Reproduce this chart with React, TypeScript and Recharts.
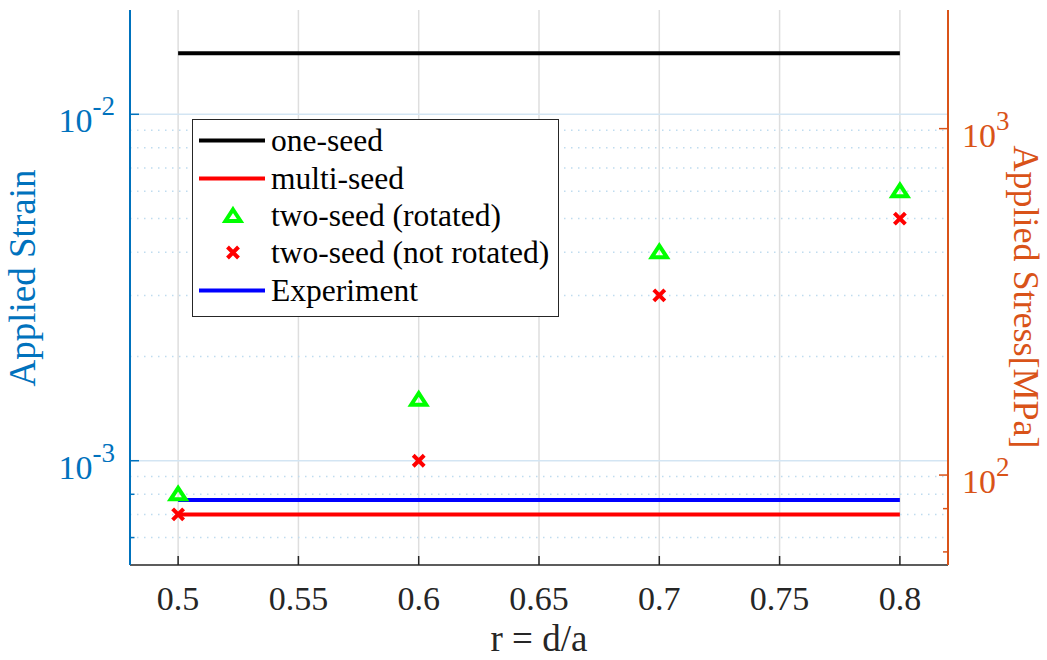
import React from 'react';
import {
  ComposedChart,
  Line,
  Scatter,
  XAxis,
  YAxis,
  CartesianGrid,
  ReferenceLine,
  Legend,
} from 'recharts';

// r = d/a positions of the two-seed runs
const rValues = [0.5, 0.6, 0.7, 0.8];
// span of the reference lines
const lineSpan = [0.5, 0.8];

const oneSeedStrain = 0.015;
const multiSeedStrain = 0.0007;
const experimentStrain = 0.00077;
const rotatedStrain = [0.0008, 0.0015, 0.004, 0.006];
const notRotatedStrain = [0.0007, 0.001, 0.003, 0.005];

const xTicks = [0.5, 0.55, 0.6, 0.65, 0.7, 0.75, 0.8];
const strainMajor = [0.001, 0.01];
const strainMinor = [0.0006, 0.0007, 0.0008, 0.0009, 0.002, 0.003, 0.004, 0.005, 0.006, 0.007, 0.008, 0.009];
const stressMajor = [100, 1000];
const stressMinor = [60, 70, 80, 90, 200, 300, 400, 500, 600, 700, 800, 900, 2000];

const legendOrder = ['one-seed', 'multi-seed', 'two-seed (rotated)', 'two-seed (not rotated)', 'Experiment'];

const FONT = "'Liberation Serif', 'Times New Roman', serif";
const BLUE = '#0072BD';
const ORANGE = '#D95319';
const DARK = '#262626';
const GREEN = '#00FF00';
const RED = '#FF0000';

const flat = (v: number) => lineSpan.map((r) => ({ r, strain: v }));
const pts = (vals: number[]) => rValues.map((r, i) => ({ r, strain: vals[i] }));

const Triangle = ({ cx, cy }: any) => (
  <path
    d={`M${cx},${cy - 6.5} L${cx + 7.5},${cy + 5} L${cx - 7.5},${cy + 5} Z`}
    fill="none"
    stroke={GREEN}
    strokeWidth={4}
  />
);

const Cross = ({ cx, cy }: any) => (
  <path
    d={`M${cx - 5.5},${cy - 5.5} L${cx + 5.5},${cy + 5.5} M${cx - 5.5},${cy + 5.5} L${cx + 5.5},${cy - 5.5}`}
    stroke={RED}
    strokeWidth={4}
  />
);

const pow10 = (v: number) => String(Math.round(Math.log10(v)));

const StrainTick = ({ x, y, payload }: any) => {
  const major = strainMajor.includes(payload.value);
  return (
    <g>
      <line x1={x} x2={x + (major ? 9 : 4.5)} y1={y} y2={y} stroke={BLUE} strokeWidth={1.5} />
      {major && (
        <text x={x - 15} y={y + 18} textAnchor="end" fill={BLUE} fontSize={34} fontFamily={FONT}>
          <tspan>10</tspan>
          <tspan dy={-17} fontSize={27}>{pow10(payload.value)}</tspan>
        </text>
      )}
    </g>
  );
};

const StressTick = ({ x, y, payload }: any) => {
  const major = stressMajor.includes(payload.value);
  return (
    <g>
      <line x1={x} x2={x - (major ? 9 : 5)} y1={y} y2={y} stroke={ORANGE} strokeWidth={1.5} />
      {major && (
        <text x={x + 14} y={y + 18} textAnchor="start" fill={ORANGE} fontSize={34} fontFamily={FONT}>
          <tspan>10</tspan>
          <tspan dy={-17} fontSize={27}>{pow10(payload.value)}</tspan>
        </text>
      )}
    </g>
  );
};

const RTick = ({ x, y, payload }: any) => (
  <g>
    <line x1={x} x2={x} y1={y} y2={y - 9} stroke={DARK} strokeWidth={1.5} />
    <text x={x} y={y + 45} textAnchor="middle" fill={DARK} fontSize={34} fontFamily={FONT}>
      {payload.value}
    </text>
  </g>
);

const TopTick = ({ x, y }: any) => <line x1={x} x2={x} y1={y} y2={y + 9} stroke={DARK} strokeWidth={1.5} />;

const LegendBox = ({ payload }: any) => {
  const items = legendOrder.map((n) => (payload || []).find((p: any) => p.value === n)).filter(Boolean);
  return (
    <div
      style={{
        width: 367,
        height: 198,
        boxSizing: 'border-box',
        border: `1px solid ${DARK}`,
        background: '#fff',
        paddingTop: 2,
        fontFamily: FONT,
        fontSize: 31.5,
        color: '#000',
      }}
    >
      {items.map((it: any) => (
        <div key={it.value} style={{ display: 'flex', alignItems: 'center', height: 37.4 }}>
          <svg width={78} height={37} style={{ flex: 'none' }}>
            {it.value === 'two-seed (rotated)' ? (
              <Triangle cx={40} cy={19} />
            ) : it.value === 'two-seed (not rotated)' ? (
              <Cross cx={40} cy={18.5} />
            ) : (
              <line x1={6} x2={72} y1={18.5} y2={18.5} stroke={it.color} strokeWidth={4} />
            )}
          </svg>
          <span style={{ lineHeight: '37px', whiteSpace: 'nowrap' }}>{it.value}</span>
        </div>
      ))}
    </div>
  );
};

export default function App() {
  return (
    <div style={{ position: 'absolute', left: 0, top: 0, background: '#fff' }}>
      <ComposedChart width={1047} height={660} margin={{ top: 10, right: 0, bottom: 0, left: 0 }}>
        <CartesianGrid horizontal={false} stroke="#DEDEDE" strokeWidth={1.5} />
        {strainMinor.map((v) => (
          <ReferenceLine key={`mi${v}`} y={v} stroke="#BFDCEF" strokeWidth={1.5} strokeDasharray="1.5 5.5" />
        ))}
        {strainMajor.map((v) => (
          <ReferenceLine key={`ma${v}`} y={v} stroke="#D3E5F3" strokeWidth={1.5} />
        ))}
        <XAxis
          dataKey="r"
          type="number"
          domain={[0.48, 0.82]}
          ticks={xTicks}
          allowDataOverflow
          height={95}
          tickSize={0}
          tickMargin={0}
          tickLine={false}
          axisLine={{ stroke: DARK, strokeWidth: 1.5 }}
          tick={<RTick />}
          label={{
            content: (p: any) => (
              <text
                x={p.viewBox.x + p.viewBox.width / 2}
                y={651}
                textAnchor="middle"
                fill={DARK}
                fontSize={37}
                fontFamily={FONT}
              >
                r = d/a
              </text>
            ),
          }}
        />
        <XAxis
          xAxisId="top"
          orientation="top"
          dataKey="r"
          type="number"
          domain={[0.48, 0.82]}
          ticks={xTicks}
          allowDataOverflow
          height={0}
          tickSize={0}
          tickMargin={0}
          tickLine={false}
          axisLine={{ stroke: DARK, strokeWidth: 1.5 }}
          tick={<TopTick />}
        />
        <YAxis
          dataKey="strain"
          scale="log"
          domain={[0.0005, 0.02]}
          ticks={[...strainMinor, ...strainMajor]}
          allowDataOverflow
          width={130}
          tickSize={0}
          tickMargin={0}
          tickLine={false}
          axisLine={{ stroke: BLUE, strokeWidth: 2 }}
          tick={<StrainTick />}
          label={{
            content: (p: any) => {
              const x = p.viewBox.x + 35;
              const y = 278;
              return (
                <text
                  x={x}
                  y={y}
                  transform={`rotate(-90 ${x} ${y})`}
                  textAnchor="middle"
                  fill={BLUE}
                  fontSize={37}
                  fontFamily={FONT}
                >
                  Applied Strain
                </text>
              );
            },
          }}
        />
        <YAxis
          yAxisId="right"
          orientation="right"
          scale="log"
          domain={[55, 2200]}
          ticks={[...stressMinor, ...stressMajor]}
          allowDataOverflow
          width={99}
          tickSize={0}
          tickMargin={0}
          tickLine={false}
          axisLine={{ stroke: ORANGE, strokeWidth: 2 }}
          tick={<StressTick />}
          label={{
            content: (p: any) => {
              const x = p.viewBox.x + 66;
              const y = 297;
              return (
                <text
                  x={x}
                  y={y}
                  transform={`rotate(90 ${x} ${y})`}
                  textAnchor="middle"
                  fill={ORANGE}
                  fontSize={36}
                  fontFamily={FONT}
                >
                  Applied Stress[MPa]
                </text>
              );
            },
          }}
        />
        <Line
          name="one-seed"
          data={flat(oneSeedStrain)}
          dataKey="strain"
          stroke="#000000"
          strokeWidth={4}
          dot={false}
          isAnimationActive={false}
        />
        <Line
          name="multi-seed"
          data={flat(multiSeedStrain)}
          dataKey="strain"
          stroke={RED}
          strokeWidth={4}
          dot={false}
          isAnimationActive={false}
        />
        <Scatter
          name="two-seed (rotated)"
          data={pts(rotatedStrain)}
          fill={GREEN}
          shape={<Triangle />}
          isAnimationActive={false}
        />
        <Scatter
          name="two-seed (not rotated)"
          data={pts(notRotatedStrain)}
          fill={RED}
          shape={<Cross />}
          isAnimationActive={false}
        />
        <Line
          name="Experiment"
          data={flat(experimentStrain)}
          dataKey="strain"
          stroke="#0000FF"
          strokeWidth={4}
          dot={false}
          isAnimationActive={false}
        />
        <Legend
          layout="horizontal"
          verticalAlign="middle"
          align="center"
          content={<LegendBox />}
          wrapperStyle={{ left: 192, top: 119, width: 'auto' }}
        />
      </ComposedChart>
    </div>
  );
}
